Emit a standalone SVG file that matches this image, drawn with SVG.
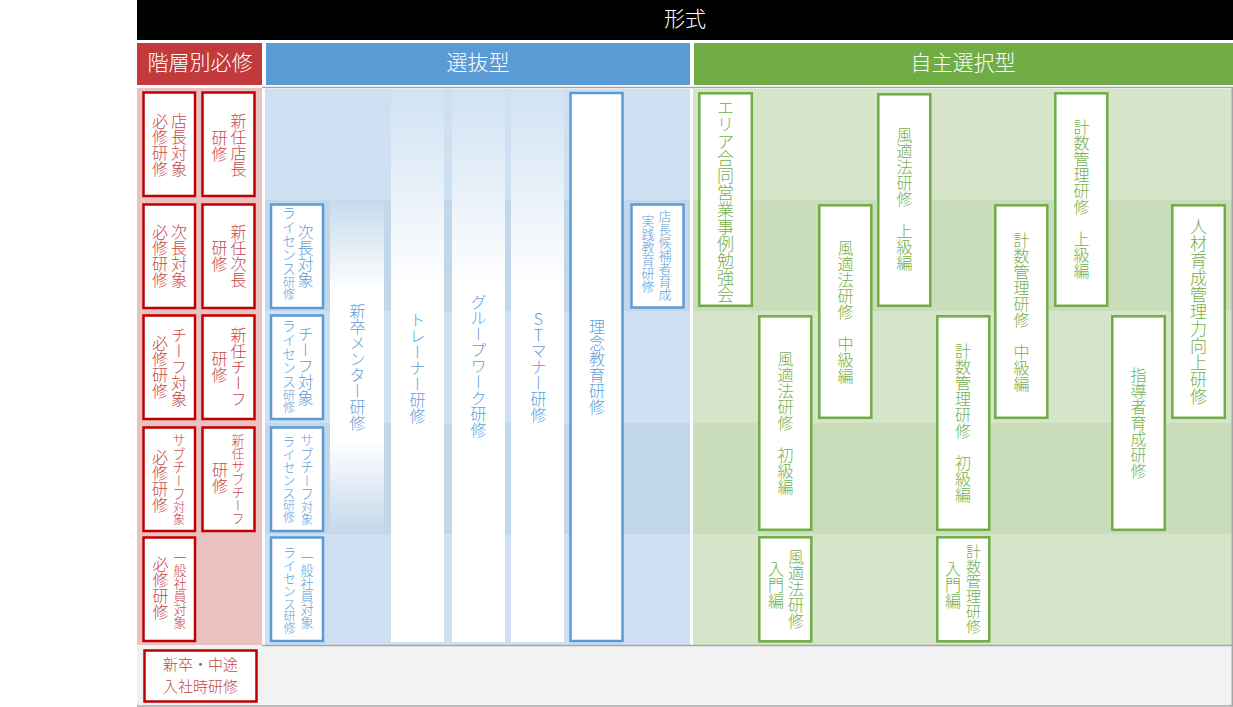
<svg xmlns="http://www.w3.org/2000/svg" width="1233" height="707" viewBox="0 0 1233 707">
<style>
text{font-family:"Noto Sans CJK JP","Noto Sans",sans-serif;font-weight:300;}
.v{writing-mode:vertical-rl;text-orientation:upright;text-anchor:middle;font-size:16px;}
.h{text-anchor:middle;fill:#fff;font-size:21px;}
.r{fill:#C5474B;}
.b{fill:#5F9ED7;}
.g{fill:#74AF4C;}
.rb{fill:#fff;stroke:#C00000;stroke-width:2.5;}
.bb{fill:#fff;stroke:#5B9BD5;stroke-width:2.5;}
.gb{fill:#fff;stroke:#70AD47;stroke-width:2.5;}
.s13{font-size:13px;}
.s12{font-size:12px;}
.s14{font-size:14px;}
</style>
<defs>
<linearGradient id="colGrad" x1="0" y1="0" x2="0" y2="1">
<stop offset="0" stop-color="#D0E2F3"/>
<stop offset="0.36" stop-color="#FFFFFF"/>
<stop offset="1" stop-color="#FFFFFF"/>
</linearGradient>
<linearGradient id="mentorGrad" x1="0" y1="0" x2="0" y2="1">
<stop offset="0" stop-color="#C6DAED"/>
<stop offset="0.27" stop-color="#FFFFFF"/>
<stop offset="0.72" stop-color="#FFFFFF"/>
<stop offset="1" stop-color="#C3D7EA"/>
</linearGradient>
</defs>
<rect x="0" y="0" width="1233" height="707" fill="#fff"/>
<g id="background">
<rect x="137" y="0" width="1096" height="40" fill="#000"/>
<rect x="137" y="43" width="125" height="42" fill="#C23A3B"/>
<rect x="266" y="43" width="424" height="42" fill="#5B9BD5"/>
<rect x="694" y="43" width="539" height="42" fill="#70AD47"/>
<rect x="137" y="88" width="125" height="557" fill="#EAC1C1"/>
<rect x="265" y="89" width="425" height="556" fill="#CEE0F2"/>
<rect x="265" y="200" width="425" height="111" fill="#C3D7EB"/>
<rect x="265" y="423" width="425" height="111" fill="#C3D7EB"/>
<rect x="693" y="89" width="539" height="556" fill="#D6E5CA"/>
<rect x="693" y="200" width="539" height="111" fill="#CADDBB"/>
<rect x="693" y="423" width="539" height="111" fill="#CADDBB"/>
<rect x="137" y="645" width="1096" height="61" fill="#F2F2F2"/>
<line x1="262" y1="87.5" x2="1233" y2="87.5" stroke="#A6A6A6" stroke-width="1.5"/>
<line x1="262" y1="645.5" x2="1233" y2="645.5" stroke="#A6A6A6" stroke-width="1.5"/>
<line x1="137" y1="706" x2="1233" y2="706" stroke="#A6A6A6" stroke-width="1.5"/>
<line x1="1232.3" y1="88" x2="1232.3" y2="706" stroke="#A6A6A6" stroke-width="1.5"/>
</g>
<g id="headers">
<text class="h" x="685" y="26">形式</text>
<text class="h" x="200" y="70">階層別必修</text>
<text class="h" x="478" y="70">選抜型</text>
<text class="h" x="963" y="70">自主選択型</text>
</g>
<g id="red-1a"><rect class="rb" x="143.5" y="92.5" width="51.5" height="103.5"/><text class="v r" x="179" y="144.5">店長対象</text><text class="v r" x="160" y="144.5">必修研修</text></g>
<g id="red-1b"><rect class="rb" x="202.5" y="92.5" width="52" height="103.5"/><text class="v r" x="238.5" y="144.5">新任店長</text><text class="v r" x="219.5" y="146">研修</text></g>
<g id="red-2a"><rect class="rb" x="143.5" y="204.5" width="51.5" height="103.5"/><text class="v r" x="179" y="256">次長対象</text><text class="v r" x="160" y="256">必修研修</text></g>
<g id="red-2b"><rect class="rb" x="202.5" y="204.5" width="52" height="103.5"/><text class="v r" x="238.5" y="256">新任次長</text><text class="v r" x="219.5" y="256">研修</text></g>
<g id="red-3a"><rect class="rb" x="143.5" y="315.5" width="51.5" height="103.5"/><text class="v r" x="179" y="367">チーフ対象</text><text class="v r" x="160" y="367">必修研修</text></g>
<g id="red-3b"><rect class="rb" x="202.5" y="315.5" width="52" height="103.5"/><text class="v r" x="238.5" y="367">新任チーフ</text><text class="v r" x="219.5" y="367">研修</text></g>
<g id="red-4a"><rect class="rb" x="143.5" y="427.5" width="51.5" height="103.5"/><text class="v r" x="179" y="479"><tspan style="font-size:13.5px">サブチーフ</tspan><tspan class="s12">対象</tspan></text><text class="v r" x="160" y="481">必修研修</text></g>
<g id="red-4b"><rect class="rb" x="202.5" y="427.5" width="52" height="103.5"/><text class="v r s13" x="238" y="479">新任サブチーフ</text><text class="v r" x="220" y="478">研修</text></g>
<g id="red-5a"><rect class="rb" x="143.5" y="537.5" width="51.5" height="103.5"/><text class="v r s13" x="180" y="590">一般社員対象</text><text class="v r" x="160.5" y="588">必修研修</text></g>
<g id="red-new"><rect class="rb" x="144.5" y="650.5" width="112" height="51"/><text class="r" x="200.5" y="670" font-size="15" text-anchor="middle">新卒・中途</text><text class="r" x="200.5" y="692" font-size="15" text-anchor="middle">入社時研修</text></g>
<g id="blue-lic-2"><rect class="bb" x="271" y="204.5" width="52" height="103.5"/><text class="v b" x="305.5" y="256">次長対象</text><text class="v b" x="289" y="253"><tspan class="s14">ライセンス</tspan><tspan class="s12">研修</tspan></text></g>
<g id="blue-lic-3"><rect class="bb" x="271" y="315.5" width="52" height="103.5"/><text class="v b" x="305.5" y="366">チーフ対象</text><text class="v b" x="289" y="366"><tspan class="s14">ライセンス</tspan><tspan class="s12">研修</tspan></text></g>
<g id="blue-lic-4"><rect class="bb" x="271" y="427.5" width="52" height="103.5"/><text class="v b" x="307" y="479"><tspan style="font-size:13.5px">サブチーフ</tspan><tspan class="s12">対象</tspan></text><text class="v b" x="289" y="479"><tspan class="s13">ライセンス</tspan><tspan class="s12">研修</tspan></text></g>
<g id="blue-lic-5"><rect class="bb" x="271" y="537.5" width="52" height="103.5"/><text class="v b s13" x="307" y="590">一般社員対象</text><text class="v b" x="289.5" y="590"><tspan class="s13">ライセンス</tspan><tspan class="s12">研修</tspan></text></g>
<g id="blue-mentor"><rect x="330" y="200" width="54" height="334" fill="url(#mentorGrad)"/><text class="v b" x="357.5" y="367">新卒メンター研修</text></g>
<g id="blue-trainer"><rect x="391" y="89" width="53" height="553" fill="url(#colGrad)"/><text class="v b" x="417.5" y="368">トレーナー研修</text></g>
<g id="blue-group"><rect x="452" y="89" width="53" height="553" fill="url(#colGrad)"/><text class="v b" x="478.5" y="366">グループワーク研修</text></g>
<g id="blue-st"><rect x="511" y="89" width="53" height="553" fill="url(#colGrad)"/><text class="v b" x="538.5" y="367">STマナー研修</text></g>
<g id="blue-rinen"><rect class="bb" x="570.5" y="93" width="52" height="548"/><text class="v b" x="597" y="367">理念教育研修</text></g>
<g id="blue-tencho"><rect class="bb" x="631.5" y="204.5" width="52" height="103"/><text class="v b s13" x="665" y="255">店長候補者育成</text><text class="v b s13" x="648" y="254">実践教育研修</text></g>
<g id="green-area"><rect class="gb" x="699.3" y="93.3" width="52.5" height="212.5"/><text class="v g" x="725.5" y="201" style="font-size:17px">エリア合同営業事例勉強会</text></g>
<g id="green-fu-jo"><rect class="gb" x="878.3" y="94.3" width="52" height="211.5"/><text class="v g" x="904.5" y="199">風適法研修　上級編</text></g>
<g id="green-fu-chu"><rect class="gb" x="819.3" y="205.3" width="52" height="212.5"/><text class="v g" x="845.5" y="311.5">風適法研修　中級編</text></g>
<g id="green-fu-sho"><rect class="gb" x="759.3" y="316.3" width="52" height="213.5"/><text class="v g" x="785.5" y="423">風適法研修　初級編</text></g>
<g id="green-fu-nyu"><rect class="gb" x="759.3" y="537.3" width="52" height="104"/><text class="v g" x="796" y="589">風適法研修</text><text class="v g" x="776" y="585">入門編</text></g>
<g id="green-kei-jo"><rect class="gb" x="1055.3" y="93.3" width="52" height="212.5"/><text class="v g" x="1081.5" y="199">計数管理研修　上級編</text></g>
<g id="green-kei-chu"><rect class="gb" x="995.3" y="205.3" width="52" height="212.5"/><text class="v g" x="1021.5" y="311.5">計数管理研修　中級編</text></g>
<g id="green-kei-sho"><rect class="gb" x="937.3" y="316.3" width="52" height="213.5"/><text class="v g" x="963" y="423">計数管理研修　初級編</text></g>
<g id="green-kei-nyu"><rect class="gb" x="937.3" y="537.3" width="52" height="104"/><text class="v g" x="973.5" y="589" style="font-size:15px">計数管理研修</text><text class="v g" x="953" y="585">入門編</text></g>
<g id="green-jinzai"><rect class="gb" x="1172.3" y="205.3" width="52.5" height="212.5"/><text class="v g" x="1198.5" y="311.5" style="font-size:17px">人材育成管理力向上研修</text></g>
<g id="green-shido"><rect class="gb" x="1112.3" y="316.3" width="52.5" height="213.5"/><text class="v g" x="1138.5" y="423">指導者育成研修</text></g>
</svg>
